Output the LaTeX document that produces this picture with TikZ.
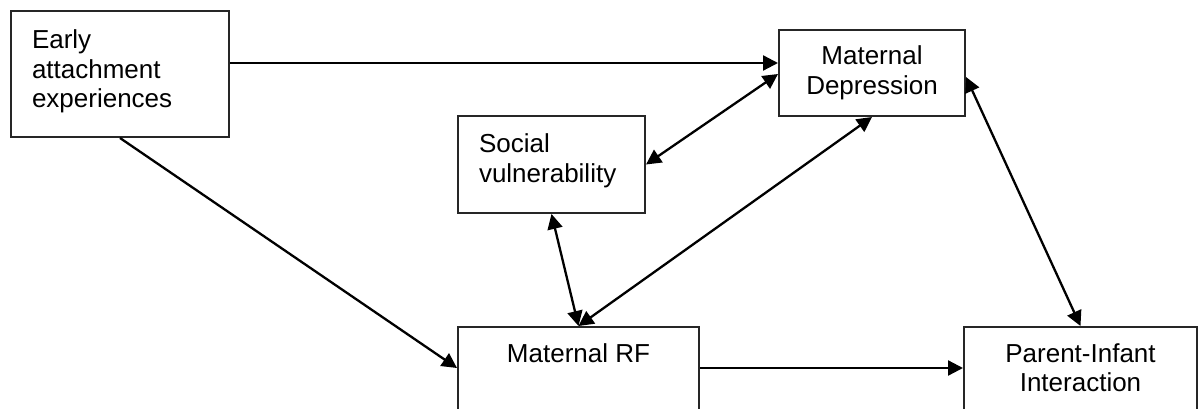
\documentclass[tikz,border=0pt]{standalone}
\usepackage{fontspec}
\setmainfont{Liberation Sans}
\usetikzlibrary{arrows.meta}

\begin{document}
\begin{tikzpicture}[x=1pt,y=1pt,>={Triangle[length=15pt,width=15pt]},
        every node/.style={font=\fontsize{26}{29.5}\selectfont},
        box/.style={draw=black!85,line width=2pt,inner xsep=21pt,inner ysep=0pt},
        topbox/.style={box,anchor=north,align=left},
        cutbox/.style={box,anchor=north,align=center,text height=20pt,text depth=80pt,inner ysep=15pt},
        link/.style={line width=2.3pt}]
            \clip (0,0) rectangle (1199,-409);

            \node[topbox,text width=176pt,text height=37.7pt,text depth=88.3pt] (early) at (120.0, -10.0) {Early\\attachment\\experiences};
            \node[box,align=center,minimum width=186pt,minimum height=86pt] (md) at (872.0, -73.0) {Maternal\\Depression};
            \node[topbox,text width=145pt,text height=37pt,text depth=60pt] (sv) at (551.5, -115.0) {Social\\vulnerability};
            \node[cutbox,minimum width=241pt] (mrf) at (578.5, -326.0) {Maternal RF};
            \node[cutbox,text height=49.5pt,text depth=60pt,minimum width=233pt] (pi) at (1080.5, -326.0) {Parent-Infant\\Interaction};

            %%%%%%%%%%%%%%%%%%%%%%%%%%%%%%%%%%%
            % early -> md, early -> mrf
            \draw[->,link] ([yshift=11pt]early.east) -- ([yshift=11pt]early.east -| md.west);
            \draw[->,link] (early.south) -- ([yshift=-42pt]mrf.north west);

            % sv <-> md, sv <-> mrf
            \draw[<->,link] (sv.east) -- ([yshift=-1pt]md.west);
            \draw[<->,link] (sv.south) -- (mrf.north);

            % mrf <-> md, md <-> pi
            \draw[<->,link] (mrf.north) -- (md.south);
            \draw[<->,link] ([yshift=-4pt]md.east) -- (pi.north);

            % mrf -> pi
            \draw[->,link] ([yshift=-42pt]mrf.north east) -- ([yshift=-42pt]pi.north west);
            %%%%%%%%%%%%%%%%%%%%%%%%%%%%%%%%%%%
\end{tikzpicture}
\end{document}
